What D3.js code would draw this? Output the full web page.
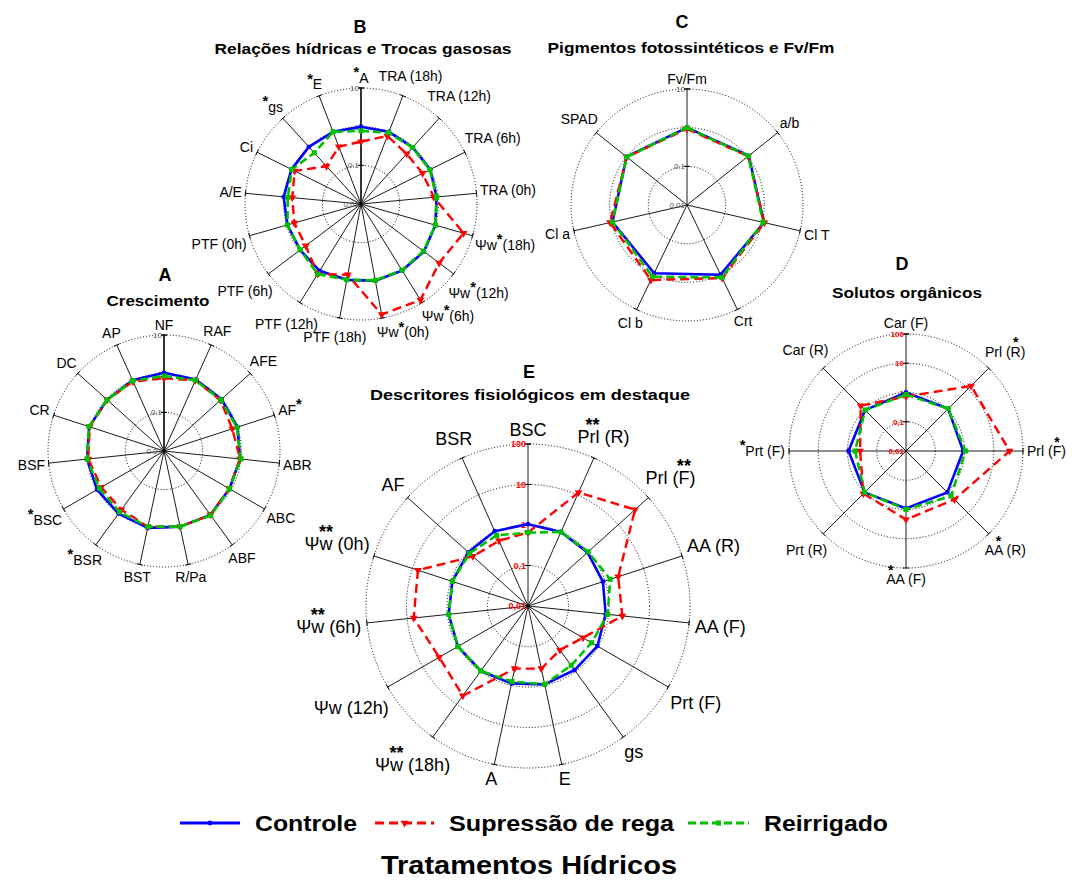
<!DOCTYPE html>
<html><head><meta charset="utf-8">
<script src="https://cdn.jsdelivr.net/npm/d3@7"></script>
<style>body{margin:0;background:#fff} svg{font-family:"Liberation Sans",Arial,sans-serif}</style>
</head><body><svg id="c" width="1072" height="880"></svg>
<script>
// ---------------- DATA ----------------
const seriesNames = ["Controle", "Supressão de rega", "Reirrigado"];
const legendTitle = "Tratamentos Hídricos";

// A - Crescimento
const axesA = ["NF","RAF","AFE","AF*","ABR","ABC","ABF","R/Pa","BST","*BSR","*BSC","BSF","CR","DC","AP"];
const controleA   = [1.05,1.05,1.0,1.0,0.95,0.9,1.1,1.0,1.08,1.0,1.0,1.0,1.08,0.95,1.0];
const supressaoA  = [0.76,1.0,0.92,0.72,0.95,0.88,1.1,1.0,1.0,0.75,0.75,0.93,1.05,0.95,0.93];
const reirrigadoA = [0.87,1.0,0.95,0.96,1.0,0.9,1.15,1.0,1.0,0.9,0.85,1.0,1.1,0.95,0.97];
const ticksA = [0.01,0.1,1,10];

// B - Relações hídricas e Trocas gasosas
const axesB = ["*A","TRA (18h)","TRA (12h)","TRA (6h)","TRA (0h)","Ψw*(18h)","Ψw*(12h)","Ψw*(6h)","Ψw*(0h)","PTF (18h)","PTF (12h)","PTF (6h)","PTF (0h)","A/E","Ci","*gs","*E"];
const controleB   = [1.0,1.0,0.96,1.0,0.92,1.0,1.1,1.05,1.04,0.99,1.08,0.94,0.95,1.02,1.02,1.0,1.0];
const supressaoB  = [0.41,0.77,0.57,0.6,0.78,5.7,3.4,8.3,8.1,0.73,1.34,0.62,0.62,0.61,0.83,0.21,0.39];
const reirrigadoB = [0.78,0.95,0.95,0.97,0.92,1.0,1.05,1.03,1.02,0.98,1.35,0.93,0.95,0.8,1.0,0.62,1.0];
const ticksB = [0.01,0.1,1,10];

// C - Pigmentos fotossintéticos e Fv/Fm
const axesC = ["Fv/Fm","a/b","Cl T","Crt","Cl b","Cl a","SPAD"];
const controleC   = [1.0,1.1,1.1,1.0,0.91,0.95,1.0];
const supressaoC  = [0.93,1.05,1.13,1.25,1.42,1.1,0.98];
const reirrigadoC = [1.0,1.07,1.05,1.2,1.14,0.95,0.98];
const ticksC = [0.01,0.1,1,10];

// D - Solutos orgânicos
const axesD = ["Car (F)","Prl (~R)","Prl (~F)","A~A (R)","~AA (F)","Prt (R)","*Prt (F)","Car (R)"];
const controleD   = [1.0,1.1,0.9,1.0,0.92,1.0,0.92,0.95];
const supressaoD  = [0.73,14,35,2.2,2.2,1.15,0.37,1.55];
const reirrigadoD = [0.85,1.1,1.08,1.5,1.0,1.0,0.55,0.95];
const ticksD = [0.01,0.1,1,10,100];

// E - Descritores fisiológicos em destaque
const axesE = ["BSC","P~~rl (R)","Prl (~~F)","AA (R)","AA (F)","Prt (F)","gs","E","A","Ψ~~w (18h)","Ψw (12h)","Ψ~~w (6h)","Ψ~~w (0h)","AF","BSR"];
const controleE   = [1.05,1.0,0.95,0.88,0.85,0.95,0.9,0.95,0.9,0.96,1.0,0.93,0.92,0.96,1.05];
const supressaoE  = [0.65,11.7,36,2.2,2.2,0.37,0.22,0.38,0.38,5.5,3.4,6.9,7.2,0.68,0.58];
const reirrigadoE = [0.65,1.0,1.0,1.36,0.95,0.65,0.65,0.95,0.81,0.96,1.0,0.93,0.92,0.88,0.81];
const ticksE = [0.01,0.1,1,10,100];

// ---------------- LAYOUT ----------------
const charts = [
  {letter:"A", subtitle:"Crescimento", cx:164, cy:451, R:116, axes:axesA, series:[controleA,supressaoA,reirrigadoA], ticks:ticksA,
   fs:14, gap:3, tickFs:8, tickColor:"#555", tickBold:false, comma:false, thickFirst:true, nudge:{},
   tx:165, ty:281, sx:158, sy:306, sw:103},
  {letter:"B", subtitle:"Relações hídricas e Trocas gasosas", cx:361, cy:204, R:116, axes:axesB, series:[controleB,supressaoB,reirrigadoB], ticks:ticksB,
   fs:14, gap:3, tickFs:8, tickColor:"#555", tickBold:false, comma:false, thickFirst:true, nudge:{7:[14,-6], 8:[18,0], 9:[-2,4]},
   tx:360, ty:33, sx:363, sy:54, sw:297},
  {letter:"C", subtitle:"Pigmentos fotossintéticos e Fv/Fm", cx:687, cy:205, R:116, axes:axesC, series:[controleC,supressaoC,reirrigadoC], ticks:ticksC,
   fs:14, gap:3, tickFs:8, tickColor:"#555", tickBold:false, comma:false, thickFirst:false, nudge:{},
   tx:682, ty:28, sx:691, sy:53, sw:287},
  {letter:"D", subtitle:"Solutos orgânicos", cx:906, cy:451, R:117, axes:axesD, series:[controleD,supressaoD,reirrigadoD], ticks:ticksD,
   fs:14, gap:4, tickFs:8, tickColor:"#ff0000", tickBold:true, comma:true, thickFirst:false, nudge:{},
   tx:902, ty:270, sx:907, sy:298, sw:150},
  {letter:"E", subtitle:"Descritores fisiológicos em destaque", cx:528, cy:606, R:162, axes:axesE, series:[controleE,supressaoE,reirrigadoE], ticks:ticksE,
   fs:18, gap:5, tickFs:9, tickColor:"#ff0000", tickBold:true, comma:true, thickFirst:false, nudge:{},
   tx:529, ty:378, sx:530, sy:400, sw:320}
];

const styles = [
  {color:"#0000ff", dash:null,  marker:"diamond",  width:2.6},
  {color:"#ff0000", dash:"9,5", marker:"triangle", width:2.4},
  {color:"#00c000", dash:"8,4", marker:"square",   width:2.6}
];

const svg = d3.select("#c");

function markerPath(type){
  if(type==="diamond") return d3.symbol().type(d3.symbolCircle).size(18)();
  if(type==="triangle") return d3.symbol().type(d3.symbolTriangle).size(26)();
  return d3.symbol().type(d3.symbolSquare).size(26)();
}

// label centred on its box, box pushed outward from the axis end
function drawLabel(g, str, ex, ey, s, c, fs, gap, nd){
  const lg = g.append("g");
  const t = lg.append("text").attr("x",0).attr("y",0.35*fs).attr("text-anchor","middle")
    .attr("font-size",fs).attr("fill","#000");
  const parts = str.split(/(\*+|~+)/).filter(p=>p!=="");
  const above = [];
  let plain = "", up = false;
  parts.forEach(p=>{
    if(p[0]==="*"){
      t.append("tspan").attr("dy",-fs*0.4).attr("font-weight","bold").attr("font-size",fs*1.05).text(p);
      up = true;
    } else if(p[0]==="~"){
      above.push({idx:plain.length, stars:p.replace(/~/g,"*")});
    } else {
      const ts = t.append("tspan").text(p);
      if(up){ ts.attr("dy",fs*0.4); up=false; }
      plain += p;
    }
  });
  const w = t.node().getBBox().width;
  const pos = above.map(a=>{
    const ext = t.node().getExtentOfChar(a.idx);
    return {x:ext.x+ext.width/2, stars:a.stars};
  });
  pos.forEach(p=>{
    t.append("tspan").attr("x",p.x).attr("y",0.35*fs - fs*0.66)
      .attr("font-weight","bold").text(p.stars);
  });
  const off = (w/2)*Math.abs(s) + (fs*0.5)*Math.abs(c) + gap;
  const dx = nd ? nd[0] : 0, dy = nd ? nd[1] : 0;
  lg.attr("transform",`translate(${ex + s*off + dx},${ey - c*off + dy})`);
}

function drawChart(cfg){
  const g = svg.append("g").attr("transform",`translate(${cfg.cx},${cfg.cy})`);
  const maxT = cfg.ticks[cfg.ticks.length-1];
  const r = d3.scaleLog().domain([cfg.ticks[0], maxT]).range([0, cfg.R]);
  const n = cfg.axes.length;
  const ang = d3.scaleLinear().domain([0,n]).range([0,2*Math.PI]);

  // rings
  g.selectAll("circle.ring").data(cfg.ticks.slice(1)).join("circle")
    .attr("r",d=>r(d)).attr("fill","none").attr("stroke","#000")
    .attr("stroke-width",1).attr("stroke-dasharray","1,2");

  // axes
  cfg.axes.forEach((lab,i)=>{
    const a = ang(i), s=Math.sin(a), c=Math.cos(a);
    const x = s*cfg.R, y = -c*cfg.R;
    g.append("line").attr("x1",0).attr("y1",0).attr("x2",x).attr("y2",y)
      .attr("stroke", (i===0 && cfg.thickFirst)?"#333":"#000")
      .attr("stroke-width", (i===0 && cfg.thickFirst)?2:0.9);
    g.append("line").attr("x1",x-c*3).attr("y1",y-s*3).attr("x2",x+c*3).attr("y2",y+s*3)
      .attr("stroke","#000").attr("stroke-width",1);
    drawLabel(g, lab, x, y, s, c, cfg.fs, cfg.gap, cfg.nudge[i]);
  });

  // ticks on first axis
  const fmt = v => { const s = String(v); return cfg.comma ? s.replace(".",",") : s; };
  cfg.ticks.forEach(t=>{
    const y = -r(t);
    if(t>cfg.ticks[0]) g.append("line").attr("x1",-3).attr("x2",3).attr("y1",y).attr("y2",y)
      .attr("stroke","#000").attr("stroke-width",1);
    g.append("text").attr("x",-2).attr("y",y+3).attr("text-anchor","end")
      .attr("font-size",cfg.tickFs).attr("fill",cfg.tickColor)
      .attr("font-weight",cfg.tickBold?"bold":"normal").text(fmt(t));
  });

  // series
  const line = d3.lineRadial().angle((d,i)=>ang(i)).radius(d=>r(d)).curve(d3.curveLinearClosed);
  cfg.series.forEach((vals,k)=>{
    const st = styles[k];
    g.append("path").attr("d",line(vals)).attr("fill","none").attr("stroke",st.color)
      .attr("stroke-width",st.width).attr("stroke-dasharray",st.dash)
      .attr("stroke-linejoin","round");
    vals.forEach((v,i)=>{
      const a = ang(i);
      const x = Math.sin(a)*r(v), y = -Math.cos(a)*r(v);
      g.append("path").attr("d",markerPath(st.marker))
        .attr("transform",`translate(${x},${y})${st.marker==="triangle"?" rotate(180)":""}`)
        .attr("fill",st.color);
    });
  });

  // titles
  svg.append("text").attr("x",cfg.tx).attr("y",cfg.ty).attr("text-anchor","middle")
    .attr("font-size",18).attr("font-weight","bold").text(cfg.letter);
  svg.append("text").attr("x",cfg.sx).attr("y",cfg.sy).attr("text-anchor","middle")
    .attr("font-size",15).attr("font-weight","bold")
    .attr("textLength",cfg.sw).attr("lengthAdjust","spacingAndGlyphs").text(cfg.subtitle);
}

charts.forEach(drawChart);

// ---------------- LEGEND ----------------
const legendPos = [
  {x1:180, x2:240, tx:255, tw:102},
  {x1:375, x2:434, tx:449, tw:225},
  {x1:688, x2:749, tx:764, tw:124}
];
const ly = 823;
seriesNames.forEach((name,k)=>{
  const p = legendPos[k], st = styles[k];
  svg.append("line").attr("x1",p.x1).attr("x2",p.x2).attr("y1",ly).attr("y2",ly)
    .attr("stroke",st.color).attr("stroke-width",3).attr("stroke-dasharray",st.dash);
  svg.append("path").attr("d",markerPath(st.marker))
    .attr("transform",`translate(${(p.x1+p.x2)/2},${ly})${st.marker==="triangle"?" rotate(180)":""}`)
    .attr("fill",st.color);
  svg.append("text").attr("x",p.tx).attr("y",ly+8).attr("font-size",22).attr("font-weight","bold")
    .attr("textLength",p.tw).attr("lengthAdjust","spacingAndGlyphs").text(name);
});
svg.append("text").attr("x",529).attr("y",874).attr("text-anchor","middle")
  .attr("font-size",25).attr("font-weight","bold")
  .attr("textLength",296).attr("lengthAdjust","spacingAndGlyphs").text(legendTitle);
</script>
</body></html>
